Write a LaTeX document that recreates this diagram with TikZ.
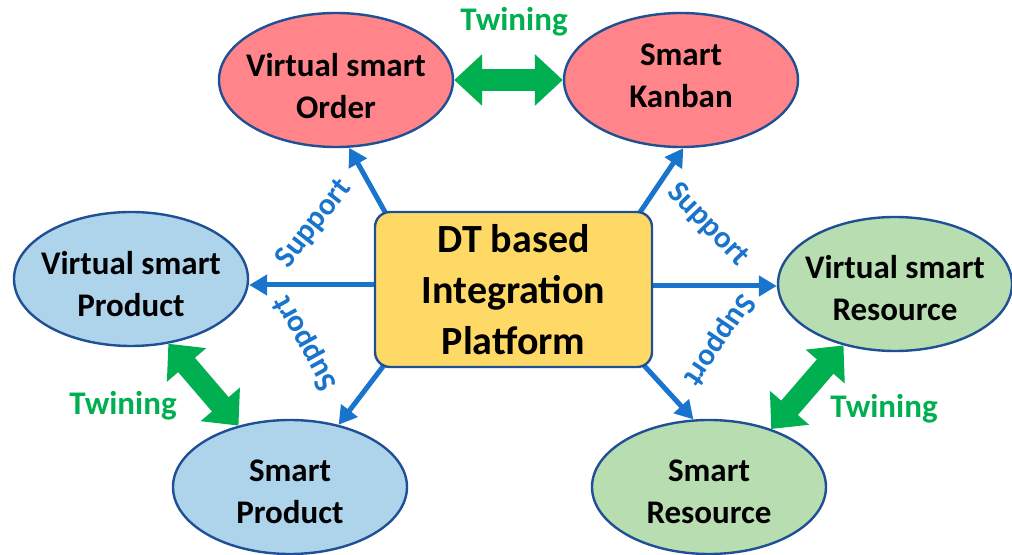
\documentclass[tikz,border=0pt]{standalone}
\usepackage{fontspec}
\setmainfont{Carlito}
\usetikzlibrary{shapes.geometric,arrows.meta,calc}
\definecolor{pinkfill}{RGB}{255,133,139}
\definecolor{bluefill}{RGB}{174,212,235}
\definecolor{greenfill}{RGB}{183,221,176}
\definecolor{goldfill}{RGB}{255,217,102}
\definecolor{edgeblue}{RGB}{31,80,150}
\definecolor{arrowblue}{RGB}{24,116,205}
\definecolor{twingreen}{RGB}{0,176,80}
\pgfdeclarelayer{bg}
\pgfsetlayers{bg,main}
\begin{document}
\begin{tikzpicture}[x=0.5pt,y=-0.5pt,
  ell/.style={ellipse, draw=edgeblue, line width=1.2pt, inner sep=0pt,
    minimum width=117pt, minimum height=67pt},
  lbl/.style={align=center, font=\bfseries\fontsize{16.5}{21}\selectfont},
  box/.style={rectangle, rounded corners=7.5pt, draw=edgeblue, fill=goldfill,
    line width=1.2pt, minimum width=138.5pt, minimum height=77.5pt,
    align=center, font=\bfseries\fontsize{20}{25.5}\selectfont},
  suplbl/.style={text=arrowblue, inner sep=0pt, font=\bfseries\fontsize{15.5}{18}\selectfont},
  twinlbl/.style={text=twingreen, inner sep=0pt, font=\bfseries\fontsize{16.5}{18}\selectfont},
  supp/.style={draw=arrowblue, line width=2.5pt, -{Triangle[length=9pt,width=10pt]}},
  twinarrow/.style={draw=twingreen, line width=11pt,
    {Triangle[length=14pt,width=25pt]}-{Triangle[length=14pt,width=25pt]}}
]
\useasboundingbox (0,0) rectangle (1012,555);

% central platform
\node[box] (dt) at (513.5,289.5) {DT based\\Integration\\Platform};

% order side
\node[ell, fill=pinkfill, label={[lbl, yshift=-3pt]center:Virtual smart\\Order}] (vo) at (336,80) {};
\node[ell, fill=pinkfill, label={[lbl, yshift=2pt]center:Smart\\Kanban}] (sk) at (681,80) {};

% product side
\node[ell, fill=bluefill, label={[lbl, yshift=-2.5pt]center:Virtual smart\\Product}] (vp) at (131,279) {};
\node[ell, fill=bluefill, label={[lbl, yshift=-2.5pt]center:Smart\\Product}] (sp) at (290,487) {};

% resource side
\node[ell, fill=greenfill, label={[lbl, yshift=-2pt]center:Virtual smart\\Resource}] (vr) at (895,284) {};
\node[ell, fill=greenfill, label={[lbl, yshift=-2.5pt]center:Smart\\Resource}] (sr) at (709,487) {};

% support arrows from the platform
\begin{pgfonlayer}{bg}
\draw[supp] ($(dt.north west)+(15,8)$) -- (vo.281);
\draw[supp] ($(dt.north east)+(-17.6,8)$) -- (sk.272);
\draw[supp] ($(dt.west)+(10,-4.5)$) -- ($(vp.east)+(0,6)$);
\draw[supp] ($(dt.east)+(-10,-3.5)$) -- ($(vr.west)+(0,2)$);
\draw[supp] ($(dt.south west)+(14,-8)$) -- (sp.52);
\draw[supp] ($(dt.south east)+(-14,-8)$) -- (sr.103);
\end{pgfonlayer}

\node[suplbl, rotate=52] (s1) at (314,224) {Support};
\node[suplbl, rotate=119] (s2) at (306,343) {Support};
\node[suplbl, rotate=-46] (s3) at (708,225) {Support};
\node[suplbl, rotate=236] (s4) at (719,340) {Support};

% twining links
\draw[twinarrow] (vo.east) -- (sk.west);
\draw[twinarrow] (vp.300) -- (sp.130);
\draw[twinarrow] (sr.43) -- (vr.230);

\node[twinlbl] (t1) at (514,22) {Twining};
\node[twinlbl] (t2) at (123,406) {Twining};
\node[twinlbl] (t3) at (884,409) {Twining};
\end{tikzpicture}
\end{document}
